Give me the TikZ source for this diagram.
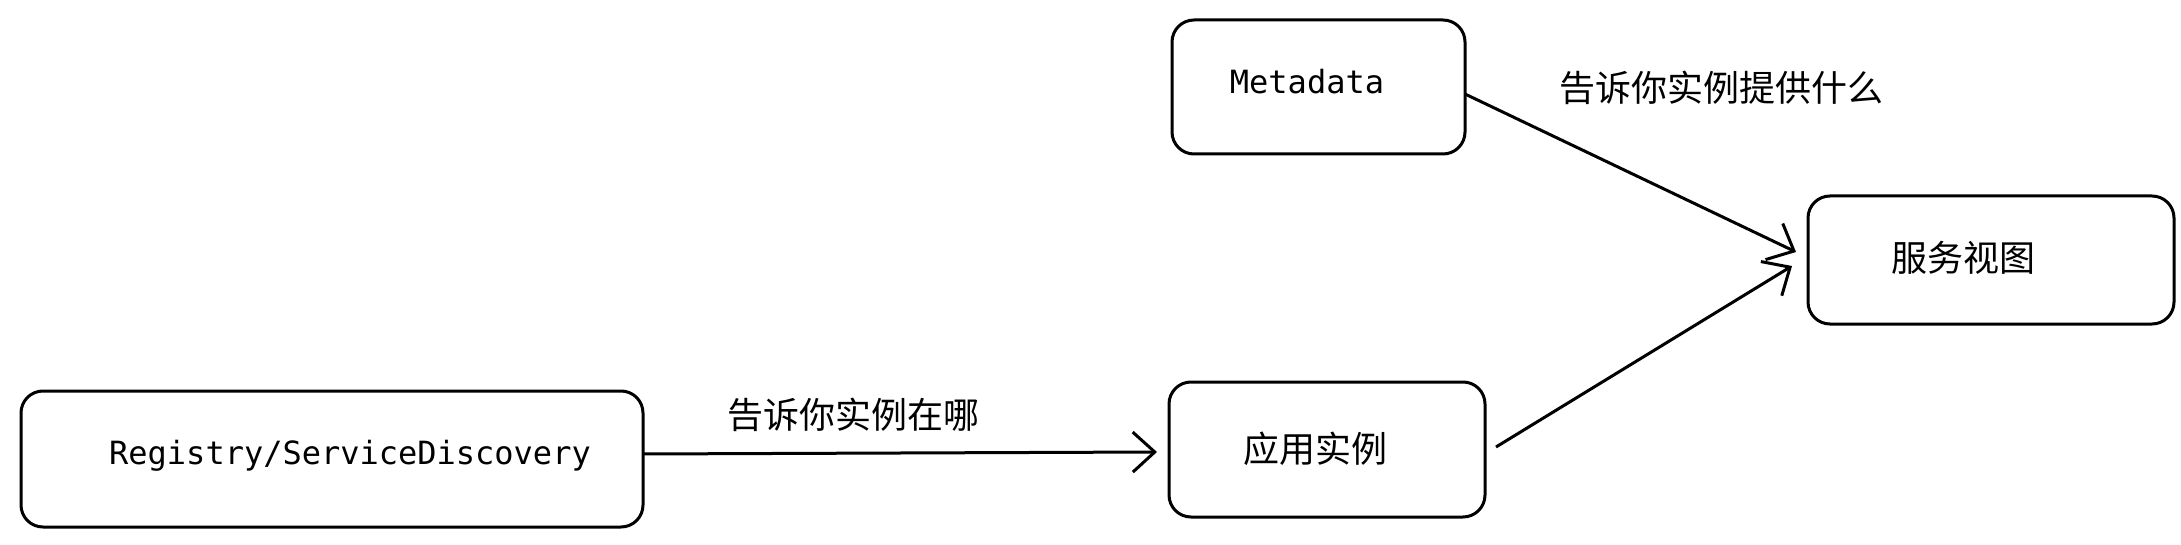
\documentclass[tikz,border=0pt]{standalone}
\usepackage{fontspec}
\setmonofont{DejaVu Sans Mono}
\newfontfamily\cjk{Noto Sans CJK SC}
\usetikzlibrary{arrows.meta}
\begin{document}
\begin{tikzpicture}[x=1pt,y=-1pt,
  box/.style={draw,line width=3pt,rounded corners=22pt},
  lbl/.style={font=\fontsize{32}{36}\selectfont\ttfamily},
  clbl/.style={font=\fontsize{36}{40}\selectfont\cjk},
  arr/.style={line width=3pt,-{Straight Barb[length=22pt,width=40pt,line width=3pt]}}]
\useasboundingbox (0,0) rectangle (2181,545);
\draw[box] (1172,20) rectangle (1465,154);
\draw[box] (1808,196) rectangle (2174,324);
\draw[box] (21,391) rectangle (643,527);
\draw[box] (1169,382) rectangle (1485,517);
\node[lbl] (meta) at (1307,82) {Metadata};
\node[clbl] (view) at (1963,258) {服务视图};
\node[lbl] (reg) at (350,456) {Registry/ServiceDiscovery};
\node[clbl] (app) at (1315,449) {应用实例};
\node[clbl] (l1) at (1721,88) {告诉你实例提供什么};
\node[clbl] (l2) at (853,415) {告诉你实例在哪};
\coordinate (a1) at (1465,94); \coordinate (b1) at (1796,252);
\coordinate (a2) at (1496,447); \coordinate (b2) at (1792,266);
\coordinate (a3) at (643,454); \coordinate (b3) at (1157,452);
\draw[arr] (a1) -- (b1);
\draw[arr] (a2) -- (b2);
\draw[arr] (a3) -- (b3);
\end{tikzpicture}
\end{document}
